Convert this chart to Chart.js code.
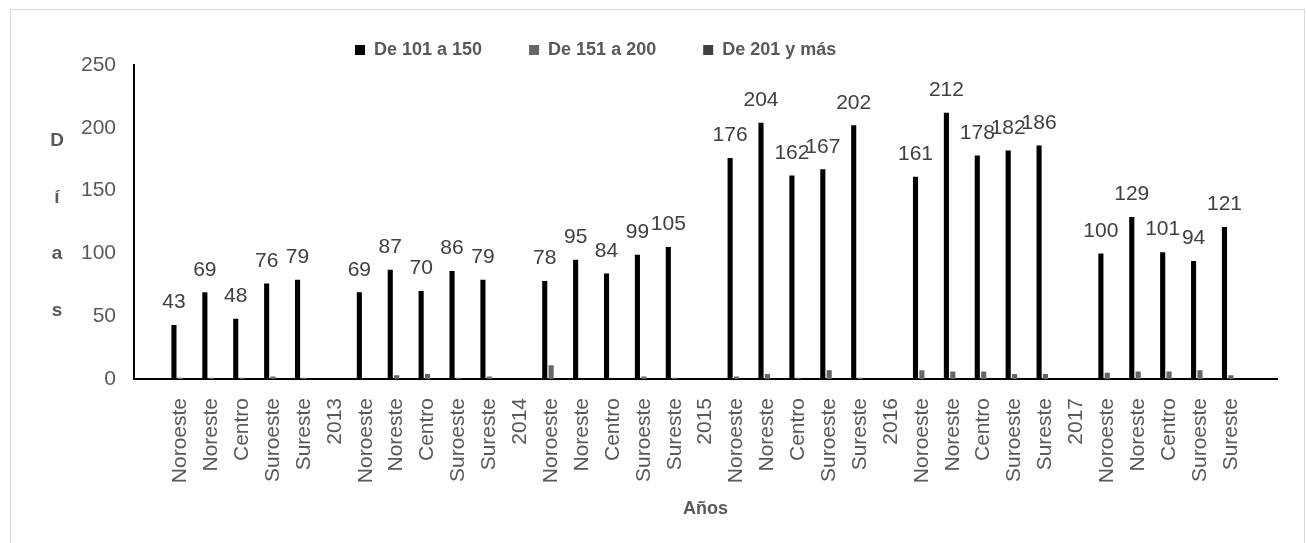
<!DOCTYPE html>
<html lang="es">
<head>
<meta charset="utf-8">
<title>Días por rango de IMECA</title>
<script src="https://cdn.jsdelivr.net/npm/chart.js@4.4.1/dist/chart.umd.min.js"></script>
<style>
  html, body { margin: 0; padding: 0; background: #ffffff; }
  #wrap { position: relative; width: 1306px; height: 543px; overflow: hidden; background: #ffffff; }
  #frame { position: absolute; left: 10px; top: 9px; width: 1295px; height: 600px;
           border: 1px solid #d9d9d9; box-sizing: border-box; }
  #c { position: absolute; left: 0; top: 0; }
</style>
</head>
<body>
<div id="wrap">
  <div id="frame"></div>
  <canvas id="c" width="1306" height="543"></canvas>
</div>
<script>
// Categories: regions grouped by year, with the year label on the separator slot
const categories = [
  '',
  'Noroeste', 'Noreste', 'Centro', 'Suroeste', 'Sureste', '2013',
  'Noroeste', 'Noreste', 'Centro', 'Suroeste', 'Sureste', '2014',
  'Noroeste', 'Noreste', 'Centro', 'Suroeste', 'Sureste', '2015',
  'Noroeste', 'Noreste', 'Centro', 'Suroeste', 'Sureste', '2016',
  'Noroeste', 'Noreste', 'Centro', 'Suroeste', 'Sureste', '2017',
  'Noroeste', 'Noreste', 'Centro', 'Suroeste', 'Sureste',
  ''
];

// Días con índice de 101 a 150
const de101a150 = [
  null,
  43, 69, 48, 76, 79, null,
  69, 87, 70, 86, 79, null,
  78, 95, 84, 99, 105, null,
  176, 204, 162, 167, 202, null,
  161, 212, 178, 182, 186, null,
  100, 129, 101, 94, 121,
  null
];

// Días con índice de 151 a 200
const de151a200 = [
  null,
  1, 1, 1, 2, 1, null,
  0, 3, 4, 1, 2, null,
  11, 0, 0, 2, 1, null,
  2, 4, 1, 7, 1, null,
  7, 6, 6, 4, 4, null,
  5, 6, 6, 7, 3,
  null
];

// Días con índice de 201 y más
const de201ymas = [
  null,
  0, 0, 0, 0, 0, null,
  0, 0, 0, 0, 0, null,
  0, 0, 0, 0, 0, null,
  0, 0, 0, 0, 0, null,
  0, 0, 0, 0, 0, null,
  0, 0, 0, 0, 0,
  null
];

const yTicks = [0, 50, 100, 150, 200, 250];
const yAxisTitle = 'Días';
const xAxisTitle = 'Años';

const FONT = '"Liberation Sans", Arial, Helvetica, sans-serif';
Chart.defaults.font.family = FONT;

// Value labels above the first series
const valueLabels = {
  id: 'valueLabels',
  afterDatasetsDraw(chart) {
    const { ctx } = chart;
    const meta = chart.getDatasetMeta(0);
    const values = chart.data.datasets[0].data;
    ctx.save();
    ctx.font = '21px ' + FONT;
    ctx.fillStyle = '#404040';
    ctx.textAlign = 'center';
    ctx.textBaseline = 'middle';
    meta.data.forEach((bar, i) => {
      const v = values[i];
      if (v === null || v === undefined) return;
      ctx.fillText(String(v), bar.x, bar.y - 22.5);
    });
    ctx.restore();
  }
};

// Vertical axis title written as stacked letters
const stackedYTitle = {
  id: 'stackedYTitle',
  afterDraw(chart) {
    const { ctx, chartArea } = chart;
    const letters = Array.from(yAxisTitle);
    const step = 56.5;
    const mid = (chartArea.top + chartArea.bottom) / 2 + 4;
    const first = mid - step * (letters.length - 1) / 2;
    ctx.save();
    ctx.font = 'bold 19px ' + FONT;
    ctx.fillStyle = '#595959';
    ctx.textAlign = 'center';
    ctx.textBaseline = 'middle';
    letters.forEach((ch, i) => ctx.fillText(ch, 57, first + i * step));
    ctx.restore();
  }
};

// Legend block height and placement
const legendPlacement = {
  id: 'legendPlacement',
  beforeInit(chart) {
    const legend = chart.legend;
    const fit = legend.fit;
    legend.fit = function () {
      fit.call(this);
      this.height = 65;
    };
  },
  afterLayout(chart) {
    const legend = chart.legend;
    const pad = legend.options.labels.padding;
    legend.left = 355 - pad;
    legend.top = 50 - pad - 9;
  }
};

new Chart(document.getElementById('c'), {
  type: 'bar',
  data: {
    labels: categories,
    datasets: [
      { label: 'De 101 a 150', data: de101a150, backgroundColor: '#000000' },
      { label: 'De 151 a 200', data: de151a200, backgroundColor: '#666666' },
      { label: 'De 201 y más', data: de201ymas, backgroundColor: '#404040' }
    ]
  },
  options: {
    responsive: false,
    devicePixelRatio: 1,
    animation: false,
    layout: { padding: { top: 0, right: 3, bottom: 0, left: 0 } },
    datasets: {
      bar: { categoryPercentage: 0.62, barPercentage: 0.8, borderWidth: 0 }
    },
    plugins: {
      tooltip: { enabled: false },
      legend: {
        position: 'top',
        align: 'start',
        labels: {
          boxWidth: 10,
          boxHeight: 10,
          padding: 47,
          color: '#595959',
          font: { size: 18, weight: 'bold', family: FONT }
        }
      }
    },
    scales: {
      x: {
        grid: { display: false, drawTicks: false },
        border: { display: true, color: '#000000', width: 2 },
        ticks: {
          autoSkip: false,
          minRotation: 90,
          maxRotation: 90,
          padding: 19,
          color: '#595959',
          font: { size: 21, family: FONT }
        },
        title: {
          display: true,
          text: xAxisTitle,
          color: '#595959',
          font: { size: 18, weight: 'bold', family: FONT },
          padding: { top: 0, bottom: 23 }
        },
        afterFit(scale) { scale.height = 164; }
      },
      y: {
        min: yTicks[0],
        max: yTicks[yTicks.length - 1],
        grid: { display: false, drawTicks: false },
        border: { display: true, color: '#000000', width: 2 },
        ticks: {
          stepSize: yTicks[1] - yTicks[0],
          padding: 18,
          color: '#595959',
          font: { size: 21, family: FONT }
        },
        afterFit(scale) { scale.width = 134; }
      }
    }
  },
  plugins: [legendPlacement, valueLabels, stackedYTitle]
});
</script>
</body>
</html>
